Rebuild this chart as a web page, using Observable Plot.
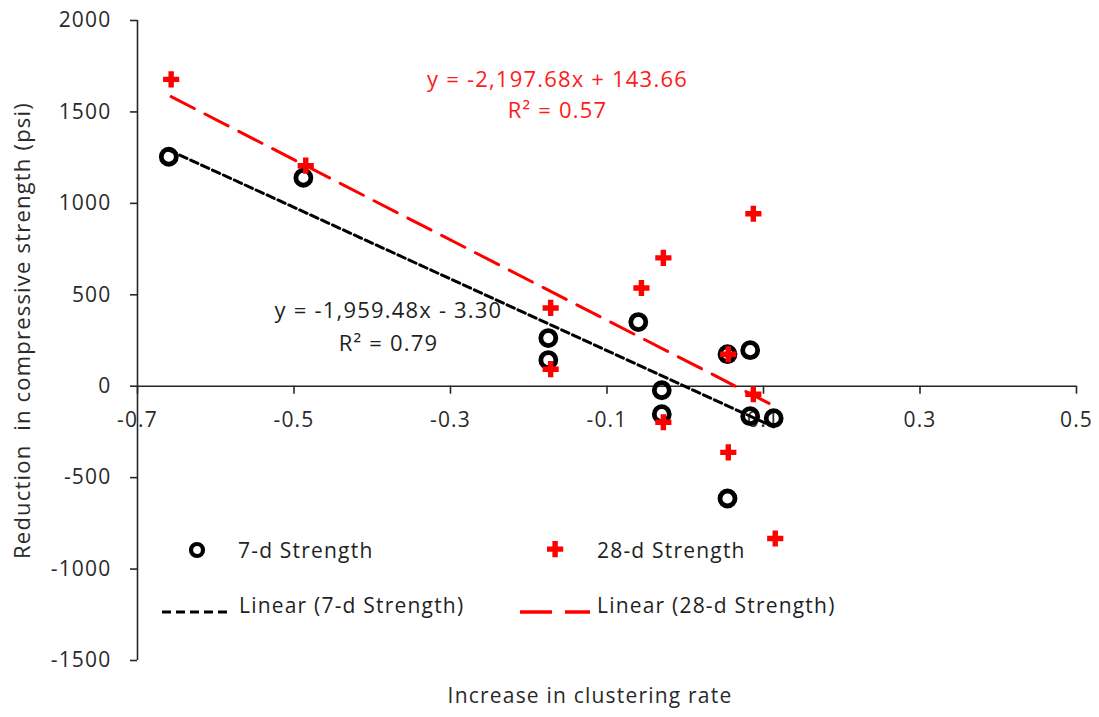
<!DOCTYPE html>
<html><head><meta charset="utf-8">
<script src="https://cdn.jsdelivr.net/npm/d3@7"></script>
<script src="https://cdn.jsdelivr.net/npm/@observablehq/plot@0.6"></script>
<style>
body{margin:0;background:#fff;}
#wrap{position:relative;width:1099px;height:717px;font-family:"Open Sans",sans-serif;letter-spacing:1.2px;}
.lt{position:absolute;font-size:21px;color:#1f1f1f;white-space:nowrap;line-height:24px;height:24px;}
.ls{position:absolute;}
</style></head><body><div id="wrap"></div>
<script>
// 7-day strength: increase in clustering rate vs reduction in compressive strength (psi)
const x7  = [-0.660, -0.488, -0.175, -0.175, -0.060, -0.030, -0.030, 0.054, 0.083, 0.083, 0.113, 0.054];
const y7  = [1255, 1140, 263, 143, 351, -22, -153, 175, 197, -164, -175, -614];
// 28-day strength
const x28 = [-0.657, -0.485, -0.172, -0.172, -0.056, -0.028, -0.028, 0.055, 0.055, 0.087, 0.087, 0.115];
const y28 = [1678, 1206, 428, 93, 537, 702, -197, 175, -362, 943, -44, -833];

const xTicks = [-0.7, -0.5, -0.3, -0.1, 0.1, 0.3, 0.5];
const xTickLabels = ["-0.7", "-0.5", "-0.3", "-0.1", "0.1", "0.3", "0.5"];
const yTicks = [-1500, -1000, -500, 0, 500, 1000, 1500, 2000];
const yTickLabels = ["-1500", "-1000", "-500", "0", "500", "1000", "1500", "2000"];
const xDomain = [-0.7, 0.5];
const yDomain = [-1500, 2000];

const seriesNames = ["7-d Strength", "28-d Strength"];
const trendNames = ["Linear (7-d Strength)", "Linear (28-d Strength)"];
const eqText = ["y = -1,959.48x - 3.30\nR\u00B2 = 0.79", "y = -2,197.68x + 143.66\nR\u00B2 = 0.57"];
const xTitle = "Increase in clustering rate";
const yTitle = "Reduction  in compressive strength (psi)";

const W = 1099, H = 717, mT = 20, mB = 57, mL = 137, mR = 23;
const innerH = H - mT - mB;
const y0px = mT + innerH * (yDomain[1] - 0) / (yDomain[1] - yDomain[0]);
const axisDy = -((H - mB) - y0px);

const d7 = x7.map((x, i) => ({x, y: y7[i]}));
const d28 = x28.map((x, i) => ({x, y: y28[i]}));

const chart = Plot.plot({
  width: W, height: H,
  marginTop: mT, marginBottom: mB, marginLeft: mL, marginRight: mR,
  x: {domain: xDomain},
  y: {domain: yDomain},
  style: {fontFamily: "'Open Sans', sans-serif", fontSize: "21px", color: "#2a2a2a", background: "#fff", overflow: "visible"},
  marks: [
    Plot.ruleY([0], {stroke: "#262626", strokeWidth: 1.6}),
    Plot.ruleX([xDomain[0]], {stroke: "#262626", strokeWidth: 1.6}),
    Plot.axisY(yTicks, {anchor: "left", tickSize: 7, tickPadding: 19, stroke: "#262626", strokeWidth: 1.6,
      tickFormat: d => yTickLabels[yTicks.indexOf(d)], label: null, fontSize: 21, fill: "#2a2a2a"}),
    Plot.axisX(xTicks, {anchor: "bottom", dy: axisDy, tickSize: 8, tickPadding: 18, stroke: "#262626", strokeWidth: 1.6,
      tickFormat: d => xTickLabels[xTicks.indexOf(d)], label: null, fontSize: 21, fill: "#2a2a2a"}),
    Plot.text([xTitle], {frameAnchor: "bottom", textAnchor: "middle", dx: -17, dy: 42, fontSize: 21, fill: "#2a2a2a"}),
    Plot.text([yTitle], {frameAnchor: "left", textAnchor: "middle", lineAnchor: "middle", rotate: -90, dx: -115, dy: -10, fontSize: 22, fill: "#2a2a2a"}),
    Plot.text([eqText[0]], {frameAnchor: "top-left", dx: 251, dy: 303, textAnchor: "middle", lineAnchor: "middle", lineHeight: 1.5, fontSize: 22, fill: "#1f1f1f"}),
    Plot.text([eqText[1]], {frameAnchor: "top-left", dx: 420, dy: 72, textAnchor: "middle", lineAnchor: "middle", lineHeight: 1.4, fontSize: 22, fill: "#ff1a1a"}),
    Plot.linearRegressionY(d7, {x: "x", y: "y", ci: 0, stroke: "#000", strokeWidth: 3, strokeDasharray: "8,4"}),
    Plot.linearRegressionY(d28, {x: "x", y: "y", ci: 0, stroke: "#ff0000", strokeWidth: 3, strokeDasharray: "26,12"}),
    Plot.dot(d7, {x: "x", y: "y", r: 7.5, stroke: "#000", strokeWidth: 4.8, fill: "none"}),
    Plot.dot(d28, {x: "x", y: "y", symbol: "cross", r: 6.8, fill: "#ff0000", stroke: "none"})
  ]
});
const wrap = document.getElementById("wrap");
chart.style.position = "absolute";
chart.style.left = "0px";
chart.style.top = "0px";
wrap.appendChild(chart);

// legend overlay
function addText(txt, left, cy) {
  const d = document.createElement("div");
  d.className = "lt"; d.textContent = txt;
  d.style.left = left + "px"; d.style.top = (cy - 12) + "px";
  wrap.appendChild(d);
}
function addSwatch(svgInner, left, cy, w, h) {
  const d = document.createElement("div");
  d.className = "ls";
  d.style.left = left + "px"; d.style.top = (cy - h / 2) + "px";
  d.innerHTML = `<svg width="${w}" height="${h}" viewBox="0 0 ${w} ${h}">${svgInner}</svg>`;
  wrap.appendChild(d);
}
addSwatch(`<circle cx="10" cy="10" r="6" fill="none" stroke="#000" stroke-width="4.2"/>`, 187, 550, 20, 20);
addText(seriesNames[0], 238, 550);
addSwatch(`<path d="M6,0h6v6h6v6h-6v6h-6v-6h-6v-6h6z" fill="#f00" transform="translate(1,1) scale(0.9)"/>`, 546, 550, 20, 20);
addText(seriesNames[1], 597, 550);
addSwatch(`<line x1="0" y1="5" x2="70" y2="5" stroke="#000" stroke-width="3" stroke-dasharray="9,5"/>`, 162, 605, 70, 10);
addText(trendNames[0], 239, 605);
addSwatch(`<line x1="0" y1="5" x2="70" y2="5" stroke="#f00" stroke-width="3.5" stroke-dasharray="32,13"/>`, 520, 605, 70, 10);
addText(trendNames[1], 597, 605);
</script></body></html>
